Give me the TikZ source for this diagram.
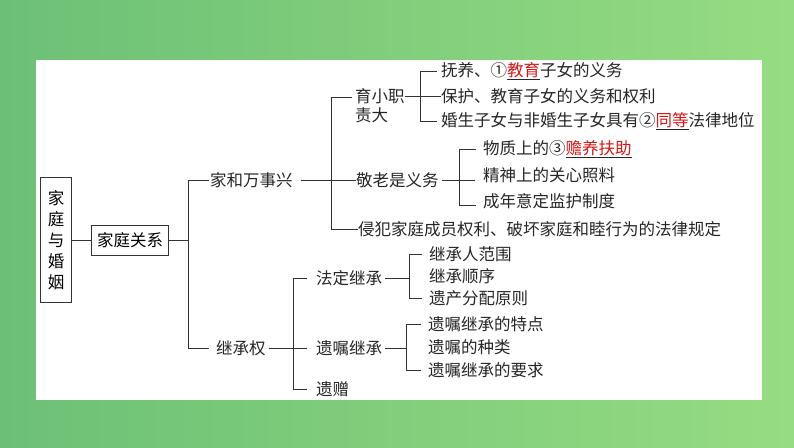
\documentclass[tikz,border=0pt]{standalone}
\usepackage{fontspec}
\newfontfamily\cjk{Noto Sans CJK SC}
\definecolor{bgA}{RGB}{108,192,118}
\definecolor{bgB}{RGB}{150,220,130}
\definecolor{ln}{RGB}{50,50,50}
\definecolor{rd}{RGB}{220,20,20}
\tikzset{
  t/.style={anchor=west,inner sep=0pt,font=\cjk\fontsize{16.5}{18}\selectfont,text=black!85},
  bx/.style={draw=ln,line width=0.9pt,inner sep=3pt,font=\cjk\fontsize{16.5}{18}\selectfont},
  l/.style={draw=ln,line width=0.9pt}
}
\newcommand{\rul}[1]{\underline{\textcolor{rd}{#1}}}
\begin{document}
\begin{tikzpicture}[x=1pt,y=-1pt]
\useasboundingbox (0,0) rectangle (794,447);
\shade[left color=bgA,right color=bgB] (0,0) rectangle (794,447);
\fill[white] (36,60) rectangle (762,400);
% root
\node[bx,minimum width=31pt,minimum height=125pt,align=center,inner sep=1pt,font=\cjk\fontsize{16.5}{21}\selectfont] (root) at (56,240) {家\\庭\\与\\婚\\姻};
\node[bx,minimum width=77pt,minimum height=30pt] (jt) at (130,240) {家庭关系};
\draw[l] (root.east) -- (jt.west);
\coordinate (v1) at (188,240);
\node[t] (jh) at (210,180) {家和万事兴};
\node[t] (jc) at (216,348) {继承权};
\draw[l] (jt.east) -- (v1);
\draw[l] (jh.west -| v1) ++(21,0) -- (jh.west -| v1) -- (jc.west -| v1) -- ++(21,0);
% upper
\node[t,align=left,font=\cjk\fontsize{16.5}{19}\selectfont] (yx) at (355,106) {育小职\\责大};
\node[t] (jl) at (356,180) {敬老是义务};
\node[t] (qf) at (358,229) {侵犯家庭成员权利、破坏家庭和睦行为的法律规定};
\draw[l] (jh.east) ++(8,0) -- (jl.west);
\draw[l] (352,97) -- (331,97) -- (331,229) -- (qf.west);
% 育小职责大 branches
\node[t] (a1) at (441,71) {抚养、①\rul{教育}子女的义务};
\node[t] (a2) at (441,96) {保护、教育子女的义务和权利};
\node[t] (a3) at (441,121) {婚生子女与非婚生子女具有②\rul{同等}法律地位};
\draw[l] (405,96) -- (a2.west);
\draw[l] ([xshift=-4pt]a1.west) -- (420,71) -- (420,121) -- ([xshift=-4pt]a3.west);
% 敬老 branches
\node[t] (b1) at (483,149) {物质上的③\rul{赡养扶助}};
\node[t] (b2) at (483,175) {精神上的关心照料};
\node[t] (b3) at (483,201) {成年意定监护制度};
\draw[l] (jl.east) ++(3,0) -- (475,180);
\draw[l] ([xshift=-7pt]b1.west) -- (459,149) -- (459,205) -- ([xshift=-7pt]b3.west |- 0,205);
% lower
\node[t] (fd) at (316,278) {法定继承};
\node[t] (yz) at (316,348) {遗嘱继承};
\node[t] (yzz) at (316,389) {遗赠};
\draw[l] (jc.east) ++(3,0) -- ([xshift=-9pt]yz.west);
\draw[l] ([xshift=-9pt]fd.west) -- (293,278) -- (293,389) -- ([xshift=-9pt]yzz.west);
\node[t] (c1) at (429,254) {继承人范围};
\node[t] (c2) at (429,276) {继承顺序};
\node[t] (c3) at (429,298) {遗产分配原则};
\draw[l] (fd.east) ++(3,0) -- (409,278);
\draw[l] ([xshift=-7pt]c1.west) -- (409,254) -- (409,298) -- ([xshift=-7pt]c3.west);
\node[t] (d1) at (428,324) {遗嘱继承的特点};
\node[t] (d2) at (428,347) {遗嘱的种类};
\node[t] (d3) at (428,370) {遗嘱继承的要求};
\draw[l] (yz.east) ++(3,0) -- (406,348);
\draw[l] ([xshift=-7pt]d1.west) -- (406,324) -- (406,370) -- ([xshift=-7pt]d3.west);
\end{tikzpicture}
\end{document}
